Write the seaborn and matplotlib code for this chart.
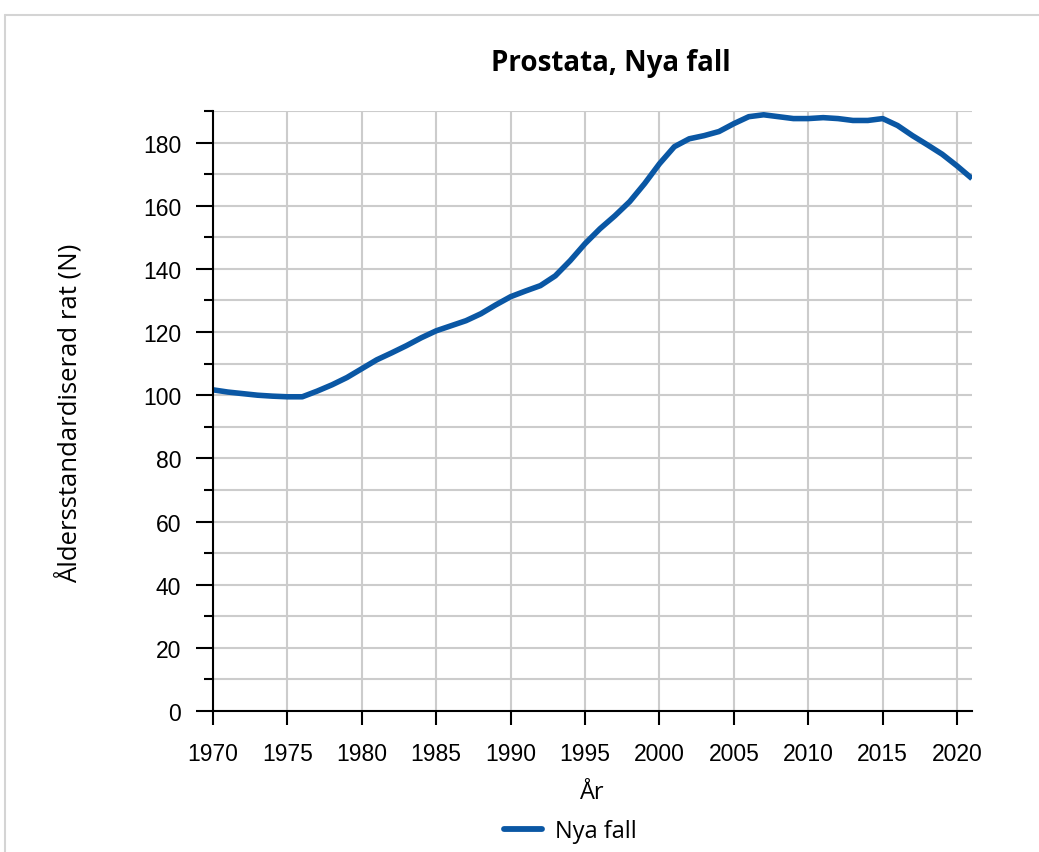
import pandas as pd
import numpy as np
import matplotlib.pyplot as plt
import seaborn as sns
from matplotlib.lines import Line2D

years = list(range(1970, 2022))
rates = [101.7, 101.0, 100.5, 100.0, 99.7, 99.5, 99.5, 101.3, 103.3, 105.6,
         108.4, 111.2, 113.4, 115.7, 118.2, 120.4, 122.0, 123.6, 125.8, 128.6,
         131.2, 133.0, 134.7, 137.8, 142.6, 148.0, 152.7, 156.8, 161.3, 167.0,
         173.3, 178.7, 181.2, 182.2, 183.5, 186.0, 188.2, 188.8, 188.2, 187.6,
         187.6, 187.9, 187.6, 187.0, 187.0, 187.6, 185.4, 182.2, 179.3, 176.3,
         172.6, 168.6]
series_name = 'Nya fall'
title = 'Prostata, Nya fall'
xlabel = 'År'
ylabel = 'Åldersstandardiserad rat (N)'

df = pd.DataFrame({'year': years, 'rate': rates})

sns.set_theme(style='white')
plt.rcParams['font.family'] = ['Liberation Sans', 'DejaVu Sans']
plt.rcParams['text.color'] = 'black'

fig = plt.figure(figsize=(10.39, 8.53), dpi=100)
ax = fig.add_axes([213 / 1039, 1 - 712 / 853, (972 - 213) / 1039, (712 - 112) / 853])

blue = '#0a57a4'
sns.lineplot(data=df, x='year', y='rate', ax=ax, color=blue, linewidth=4,
             legend=False, solid_capstyle='butt')

ax.set_xlim(1970, 2021)
ax.set_ylim(0, 190)
ax.set_xticks(np.arange(1970, 2021, 5))
ax.set_yticks(np.arange(0, 181, 20))
ax.set_yticks(np.arange(10, 191, 20), minor=True)
ax.grid(True, which='both', color='#cccccc', linewidth=1.5)
ax.set_axisbelow(True)
for s in ['top', 'right']:
    ax.spines[s].set_visible(False)
for s in ['left', 'bottom']:
    ax.spines[s].set_color('black')
    ax.spines[s].set_linewidth(1.5)
ax.tick_params(axis='x', which='major', direction='out', length=10, width=1.5,
               color='black', labelsize=16.5, labelcolor='black', pad=12, bottom=True)
ax.tick_params(axis='y', which='major', direction='out', length=12, width=1.5,
               color='black', labelsize=16.5, labelcolor='black', pad=11, left=True)
ax.tick_params(axis='y', which='minor', direction='out', length=6.5, width=1.5,
               color='black', left=True)
ax.set_xlabel('')
ax.set_ylabel('')

fig.text(611 / 1039, 1 - 63 / 853, title, ha='center', va='center', fontsize=20,
         fontweight='bold', family=['Open Sans', 'DejaVu Sans'])
fig.text(592 / 1039, 1 - 793 / 853, xlabel, ha='center', va='center', fontsize=17,
         family=['Open Sans', 'DejaVu Sans'])
fig.text(69 / 1039, 1 - 413 / 853, ylabel, ha='center', va='center', fontsize=18.5,
         rotation=90, family=['Open Sans', 'DejaVu Sans'])

handle = Line2D([], [], color=blue, linewidth=4.2)
fig.legend([handle], [series_name], loc='center', bbox_to_anchor=(570 / 1039, 1 - 832 / 853),
           frameon=False, prop={'family': 'Open Sans', 'size': 17}, handlelength=1.6,
           handletextpad=0.55)

# light frame around the chart area
fig.add_artist(Line2D([5 / 1039, 1], [1 - 16 / 853, 1 - 16 / 853], color='#d4d4d4',
                      linewidth=1.5, transform=fig.transFigure))
fig.add_artist(Line2D([5 / 1039, 5 / 1039], [0, 1 - 16 / 853], color='#d4d4d4',
                      linewidth=1.5, transform=fig.transFigure))

fig.savefig('out.png', dpi=100)
